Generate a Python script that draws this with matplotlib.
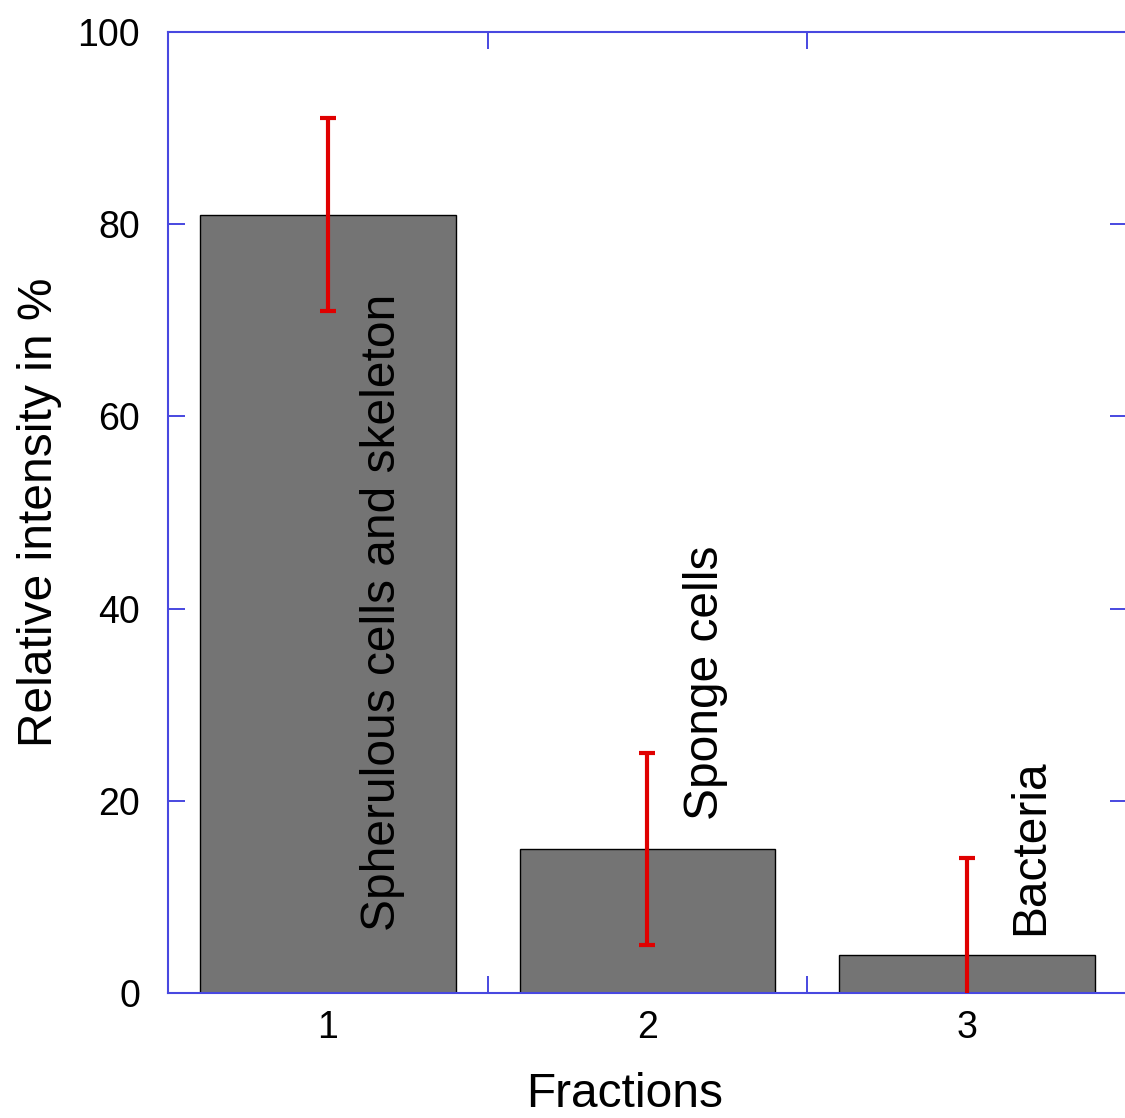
import matplotlib.pyplot as plt

plt.rcParams['font.family'] = ['Liberation Sans', 'DejaVu Sans']

# data
fractions = [1, 2, 3]
intensity = [81, 15, 4]
errors = [10, 10, 10]
labels = ['Spherulous cells and skeleton', 'Sponge cells', 'Bacteria']
label_x = [1.17, 2.18, 3.2]
label_y = [6.5, 18, 6]

fig = plt.figure(figsize=(11.25, 11.18), dpi=100)
ax = fig.add_axes([0.1493, 0.1118, 0.8525, 0.8596])

blue = '#4848e0'

ax.bar(fractions, intensity, width=0.8, color='#747474', edgecolor='black', linewidth=1, zorder=2)
ax.errorbar(fractions, intensity, yerr=errors, fmt='none', ecolor='#e00000',
            elinewidth=3, capsize=6, capthick=3, zorder=3)

for x, y, t in zip(label_x, label_y, labels):
    ax.text(x, y, t, rotation=90, ha='center', va='bottom', fontsize=34.5, zorder=4)

ax.set_xlim(0.5, 3.5)
ax.set_ylim(0, 100)

ax.set_xticks(fractions)
ax.set_xticks([1.5, 2.5], minor=True)
ax.set_yticks([0, 20, 40, 60, 80, 100])
ax.tick_params(axis='x', which='major', length=0, pad=12, labelsize=27)
ax.tick_params(axis='x', which='minor', direction='in', length=12, width=1.4,
               color=blue, top=True, bottom=True)
ax.tick_params(axis='y', which='major', direction='in', length=12, width=1.4,
               color=blue, left=True, right=True, pad=20, labelsize=27)

for s in ax.spines.values():
    s.set_color(blue)
    s.set_linewidth(1.5)

ax.set_ylabel('Relative intensity in %', fontsize=34.5, labelpad=11)
ax.set_xlabel('Fractions', fontsize=34.5)
ax.xaxis.set_label_coords(0.4765, -0.082)

fig.savefig('out.png')
